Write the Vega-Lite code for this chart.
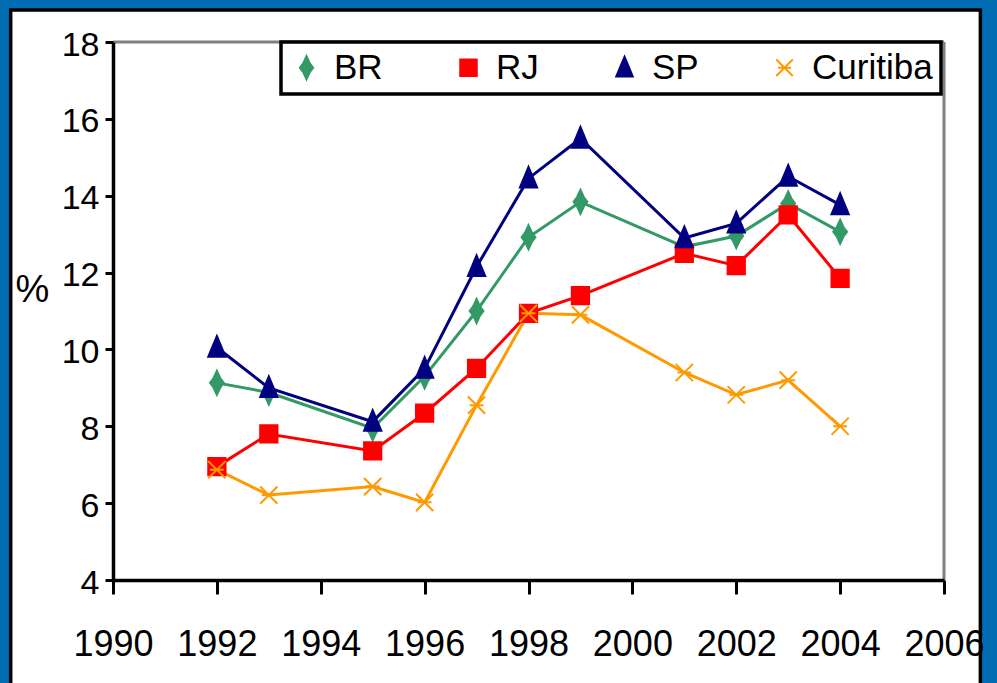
{
  "$schema": "https://vega.github.io/schema/vega-lite/v6.json",
  "width": 831,
  "height": 538,
  "autosize": {"type": "none"},
  "padding": {"left": 113, "top": 42, "right": 53, "bottom": 103},
  "background": "#006CB2",
  "config": {
    "view": {"stroke": null},
    "font": "Liberation Sans",
    "axis": {"zindex": 1, "grid": false, "domainColor": "black", "tickColor": "black", "labelColor": "black", "labelFont": "Liberation Sans", "titleFont": "Liberation Sans", "domainWidth": 3.5, "tickWidth": 3}
  },
  "data": {
    "values": [
      {"year": 1992, "series": "BR", "value": 9.13},
      {"year": 1993, "series": "BR", "value": 8.88},
      {"year": 1995, "series": "BR", "value": 7.95},
      {"year": 1996, "series": "BR", "value": 9.3},
      {"year": 1997, "series": "BR", "value": 11.0},
      {"year": 1998, "series": "BR", "value": 12.92},
      {"year": 1999, "series": "BR", "value": 13.84},
      {"year": 2001, "series": "BR", "value": 12.67},
      {"year": 2002, "series": "BR", "value": 12.95},
      {"year": 2003, "series": "BR", "value": 13.8},
      {"year": 2004, "series": "BR", "value": 13.06},
      {"year": 1992, "series": "RJ", "value": 6.95},
      {"year": 1993, "series": "RJ", "value": 7.8},
      {"year": 1995, "series": "RJ", "value": 7.36},
      {"year": 1996, "series": "RJ", "value": 8.34},
      {"year": 1997, "series": "RJ", "value": 9.51},
      {"year": 1998, "series": "RJ", "value": 10.94},
      {"year": 1999, "series": "RJ", "value": 11.4},
      {"year": 2001, "series": "RJ", "value": 12.5},
      {"year": 2002, "series": "RJ", "value": 12.18},
      {"year": 2003, "series": "RJ", "value": 13.5},
      {"year": 2004, "series": "RJ", "value": 11.85},
      {"year": 1992, "series": "SP", "value": 10.05},
      {"year": 1993, "series": "SP", "value": 9.0},
      {"year": 1995, "series": "SP", "value": 8.12},
      {"year": 1996, "series": "SP", "value": 9.5},
      {"year": 1997, "series": "SP", "value": 12.15},
      {"year": 1998, "series": "SP", "value": 14.45},
      {"year": 1999, "series": "SP", "value": 15.49},
      {"year": 2001, "series": "SP", "value": 12.9},
      {"year": 2002, "series": "SP", "value": 13.28},
      {"year": 2003, "series": "SP", "value": 14.5},
      {"year": 2004, "series": "SP", "value": 13.76},
      {"year": 1992, "series": "Curitiba", "value": 6.87},
      {"year": 1993, "series": "Curitiba", "value": 6.21},
      {"year": 1995, "series": "Curitiba", "value": 6.43},
      {"year": 1996, "series": "Curitiba", "value": 6.02},
      {"year": 1997, "series": "Curitiba", "value": 8.55},
      {"year": 1998, "series": "Curitiba", "value": 10.94},
      {"year": 1999, "series": "Curitiba", "value": 10.9},
      {"year": 2001, "series": "Curitiba", "value": 9.4},
      {"year": 2002, "series": "Curitiba", "value": 8.82},
      {"year": 2003, "series": "Curitiba", "value": 9.2},
      {"year": 2004, "series": "Curitiba", "value": 8.0}
    ]
  },
  "layer": [
    {
      "data": {"values": [{}]},
      "mark": {"type": "rect", "fill": "white", "stroke": "black", "strokeWidth": 3.5, "clip": false},
      "encoding": {
        "x": {"datum": 1988.03, "type": "quantitative", "scale": {"domain": [1990, 2006], "nice": false, "zero": false},
          "axis": {"zindex": 2, "values": [1990, 1992, 1994, 1996, 1998, 2000, 2002, 2004, 2006], "format": "d", "title": null, "labelFontSize": 36, "tickSize": 14, "labelPadding": 33, "labelFlush": false, "labelOverlap": false}},
        "x2": {"datum": 2006.7},
        "y": {"datum": 18.83, "type": "quantitative", "scale": {"domain": [4, 18], "nice": false, "zero": false},
          "axis": {"zindex": 2, "values": [4, 6, 8, 10, 12, 14, 16, 18], "title": "%", "titleAngle": 0, "titleX": -81, "titleY": 248, "titleFontSize": 38, "titleFontWeight": "normal", "titleAlign": "center", "titleBaseline": "middle", "titleColor": "black", "labelFontSize": 34, "tickSize": 8, "labelPadding": 6, "labelOffset": 3}},
        "y2": {"datum": 0.5}
      }
    },
    {
      "data": {"values": [{}]},
      "mark": {"type": "rule", "color": "#808080", "strokeWidth": 3},
      "encoding": {
        "x": {"datum": 1990, "type": "quantitative"},
        "x2": {"datum": 2006},
        "y": {"datum": 18, "type": "quantitative"}
      }
    },
    {
      "data": {"values": [{}]},
      "mark": {"type": "rule", "color": "#808080", "strokeWidth": 3},
      "encoding": {
        "x": {"datum": 2006, "type": "quantitative"},
        "y": {"datum": 4, "type": "quantitative"},
        "y2": {"datum": 18}
      }
    },
    {
      "mark": {"type": "line", "strokeWidth": 3, "clip": false},
      "encoding": {
        "x": {"field": "year", "type": "quantitative"},
        "y": {"field": "value", "type": "quantitative"},
        "stroke": {"field": "series", "type": "nominal",
          "scale": {"domain": ["BR", "RJ", "SP", "Curitiba"], "range": ["#339966", "#FF0000", "#000080", "#FF9900"]},
          "legend": {"title": null, "orient": "none", "direction": "horizontal", "legendX": 168, "legendY": 0, "labelFontSize": 35, "labelColor": "black", "labelFont": "Liberation Sans", "labelOffset": 10, "columnPadding": 68, "padding": 8, "fillColor": "white", "strokeColor": "black", "symbolSize": 484, "symbolStrokeWidth": 2,
            "encode": {"legend": {"update": {"strokeWidth": {"value": 3.5}}}}}},
        "order": {"field": "year"}
      }
    },
    {
      "mark": {"type": "point", "filled": true, "size": 529, "strokeWidth": 2, "opacity": 1, "clip": false},
      "encoding": {
        "x": {"field": "year", "type": "quantitative"},
        "y": {"field": "value", "type": "quantitative"},
        "stroke": {"field": "series", "type": "nominal"},
        "fill": {"field": "series", "type": "nominal",
          "scale": {"domain": ["BR", "RJ", "SP", "Curitiba"], "range": ["#339966", "#FF0000", "#000080", "#FF9900"]}},
        "shape": {"field": "series", "type": "nominal",
          "scale": {"domain": ["BR", "RJ", "SP", "Curitiba"], "range": ["M0,-1.05L0.3,-0.4L0.6,0L0.3,0.4L0,1.05L-0.3,0.4L-0.6,0L-0.3,-0.4Z", "M-0.75,-0.75H0.75V0.75H-0.75Z", "M0,-1L0.75,0.8L-0.75,0.8Z", "M-0.75,-0.75L0.75,0.75M-0.75,0.75L0.75,-0.75M-0.6,0H0.6"]}}
      }
    }
  ]
}
